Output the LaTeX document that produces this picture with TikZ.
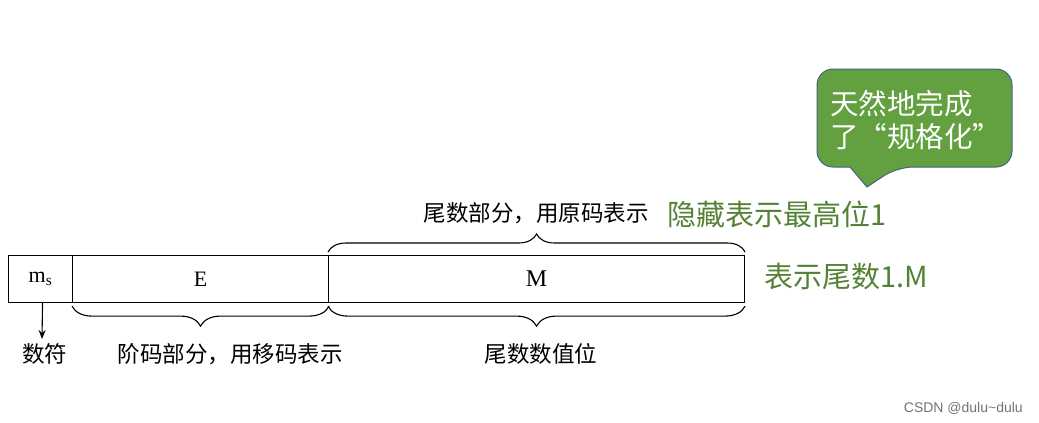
\documentclass[tikz,border=0pt]{standalone}
\usepackage{fontspec}
\setmainfont{Liberation Serif}
\newfontfamily\cjk{Noto Sans CJK SC}
\usetikzlibrary{arrows.meta,decorations.pathreplacing}
\definecolor{calloutfill}{RGB}{98,160,64}
\definecolor{calloutline}{RGB}{65,100,130}
\definecolor{greentext}{RGB}{84,130,53}
\tikzset{
  cell/.style={draw, line width=1.1pt, minimum height=47pt, inner sep=0pt, anchor=north west, font=\fontsize{22}{26}\selectfont},
  bracetop/.style={decorate, decoration={brace, amplitude=18pt, raise=3pt}, line width=1.1pt},
  bracebot/.style={decorate, decoration={brace, mirror, amplitude=20pt, raise=3pt}, line width=1.1pt},
  lbl/.style={font=\cjk\fontsize{22.5}{26}\selectfont, inner sep=0pt},
  glbl/.style={font=\cjk\fontsize{29}{33}\selectfont, text=greentext, inner sep=0pt, anchor=west},
}
\begin{document}
\begin{tikzpicture}[x=1pt,y=-1pt]
\useasboundingbox (0,0) rectangle (1039,423);
% cells
\node[cell, minimum width=64pt] (ms) at (8,255) {m\textsubscript{s}};
\node[cell, minimum width=256pt] (E) at (72,255) {E};
\node[cell, minimum width=416pt] (M) at (328,255) {\fontsize{24}{28}\selectfont\raisebox{-5pt}{M}};
% braces
\draw[bracetop] (M.north west) -- (M.north east);
\draw[bracebot] (E.south west) -- (E.south east);
\draw[bracebot] (M.south west) -- (M.south east);
% labels
\node[lbl] (sign) at (45,354) {数符};
\node[lbl] (exp) at (230,354) {阶码部分，用移码表示};
\node[lbl] (mval) at (541,354) {尾数数值位};
\node[lbl] (mpart) at (536,213) {尾数部分，用原码表示};
\node[glbl] (hidden) at (667,214) {隐藏表示最高位1};
\node[glbl] (repr) at (764,277) {表示尾数1.M};
% arrow
\draw[line width=1.1pt, -{Stealth[length=9pt,width=7pt]}] ([xshift=2pt]ms.south) -- (42,339);
% callout
\draw[fill=calloutfill, draw=calloutline, line width=1pt]
  (850,167) [rounded corners=16pt] -- (817,167) -- (817,69) -- (1012,69) -- (1012,167) -- (897,167) [sharp corners] -- (867,187) -- cycle;
\node[font=\cjk\fontsize{28.5}{33}\selectfont, text=white, align=left, inner sep=0pt, anchor=west] (note) at (830,120) {天然地完成\\了“规格化”};
% watermark
\node[font=\fontspec{Liberation Sans}\fontsize{14}{16}\selectfont, text=black!55, anchor=east, inner sep=0pt] (wm) at (1023,408) {CSDN @dulu\textasciitilde dulu};
\end{tikzpicture}
\end{document}
